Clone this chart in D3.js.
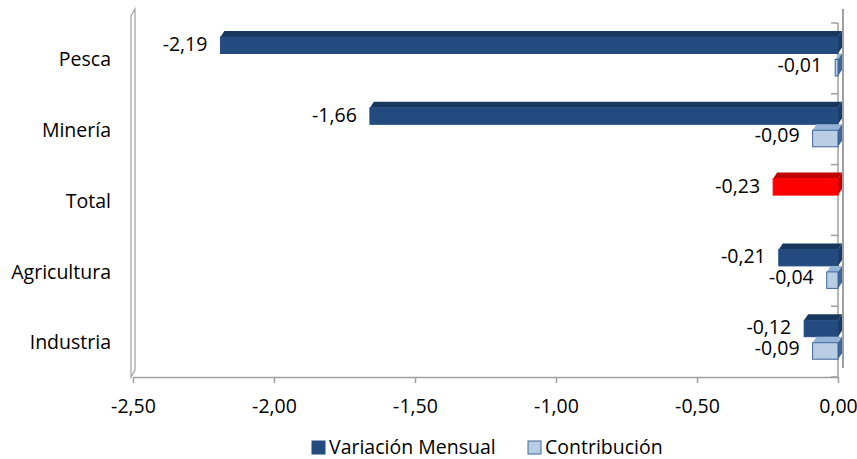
<!DOCTYPE html>
<html>
<head>
<meta charset="utf-8">
<script src="https://cdn.jsdelivr.net/npm/d3@7"></script>
<style>
  body { margin: 0; background: #fff; }
  svg text { font-family: "Open Sans", "Noto Sans", sans-serif; fill: #000; }
</style>
</head>
<body>
<div id="chart"></div>
<script>
const categories = ["Pesca", "Minería", "Total", "Agricultura", "Industria"]
const variacionMensual = [-2.19, -1.66, -0.23, -0.21, -0.12]
const contribucion = [-0.01, -0.09, null, -0.04, -0.09]
const xTicks = [-2.5, -2.0, -1.5, -1.0, -0.5, 0.0]
const seriesNames = ["Variación Mensual", "Contribución"]

const W = 857, H = 459
const fontSize = 19.5

const svg = d3.select("#chart").append("svg")
    .attr("width", W)
    .attr("height", H)

const xScale = d3.scaleLinear().domain([-2.5, 0]).range([133, 838])
const yScale = d3.scaleBand().domain(categories).range([23, 377])
const subScale = d3.scaleBand().domain(seriesNames).range([8, 53])

const fmt = v => d3.format(".2f")(v).replace(".", ",").replace("−", "-")

const colors = {
    dark: { front: "#234b80", top: "#17375e", side: "#1a3a66", stroke: "#234b80" },
    light: { front: "#b9cde5", top: "#95b3d7", side: "#3d6699", stroke: "#3d6699" },
    red: { front: "#ff0000", top: "#c00000", side: "#c00000", stroke: "#ff0000" }
}

// walls
const wall = svg.append("g").attr("class", "walls")
wall.append("path")
    .attr("d", "M131,377 L131,16 L135,9 L135,370 Z")
    .attr("fill", "#fff").attr("stroke", "#a0a0a0").attr("stroke-width", 1.2)
wall.append("line")
    .attr("x1", 843).attr("x2", 843).attr("y1", 9).attr("y2", 368)
    .attr("stroke", "#a0a0a0").attr("stroke-width", 2)
wall.append("line")
    .attr("x1", 838).attr("x2", 838).attr("y1", 23).attr("y2", 377)
    .attr("stroke", "#a0a0a0").attr("stroke-width", 1.5)
wall.selectAll(".rtick")
    .data(d3.range(categories.length + 1))
    .enter().append("line")
    .attr("x1", 831).attr("x2", 838)
    .attr("y1", i => 23 + i * yScale.step())
    .attr("y2", i => 23 + i * yScale.step())
    .attr("stroke", "#a0a0a0").attr("stroke-width", 1.5)

// bars
const bars = []
categories.forEach((c, i) => {
    bars.push({ cat: c, series: seriesNames[0], v: variacionMensual[i], col: c === "Total" ? colors.red : colors.dark })
    if (contribucion[i] !== null) {
        bars.push({ cat: c, series: seriesNames[1], v: contribucion[i], col: colors.light })
    }
})

const depth = 4, lift = 6
const barG = svg.append("g").attr("class", "bars")
bars.forEach(d => {
    const y0 = yScale(d.cat) + subScale(d.series)
    const h = subScale.bandwidth()
    const xl = xScale(d.v), xr = xScale(0)
    const g = barG.append("g")
    // top face
    g.append("path")
        .attr("d", `M${xl},${y0 + lift} L${xl + depth},${y0} L${xr + depth},${y0} L${xr},${y0 + lift} Z`)
        .attr("fill", d.col.top)
    // right side face
    g.append("path")
        .attr("d", `M${xr},${y0 + lift} L${xr + depth},${y0} L${xr + depth},${y0 + h - lift} L${xr},${y0 + h} Z`)
        .attr("fill", d.col.side)
    // front face
    g.append("rect")
        .attr("x", xl).attr("y", y0 + lift)
        .attr("width", xr - xl).attr("height", h - lift)
        .attr("fill", d.col.front)
        .attr("stroke", d.col.stroke).attr("stroke-width", 1)
    g.append("text")
        .attr("x", xl - 13)
        .attr("y", y0 + lift + (h - lift) / 2 + (d.series === seriesNames[0] ? -1 : -3))
        .attr("dy", "0.35em")
        .attr("text-anchor", "end")
        .attr("font-size", fontSize)
        .text(fmt(d.v))
})

// x axis
const bottomAxis = d3.axisBottom(xScale)
    .tickValues(xTicks)
    .tickFormat(fmt)
    .tickSize(6)
    .tickPadding(16)
    .tickSizeOuter(0)
const ax = svg.append("g")
    .attr("transform", "translate(0,377)")
    .call(bottomAxis)
ax.select(".domain").attr("stroke", "#a0a0a0").attr("stroke-width", 1.5)
ax.selectAll(".tick line").attr("stroke", "#a0a0a0").attr("stroke-width", 1.5)
ax.selectAll(".tick text").attr("font-size", fontSize).attr("font-family", null).attr("fill", "#000")

// category labels
svg.append("g").selectAll("text")
    .data(categories)
    .enter().append("text")
    .attr("x", 111)
    .attr("y", d => yScale(d) + yScale.bandwidth() / 2 + 1)
    .attr("dy", "0.35em")
    .attr("text-anchor", "end")
    .attr("font-size", fontSize)
    .text(d => d)

// legend
const legend = svg.append("g").attr("class", "legend")
const legendX = [312, 528]
const legendCols = [colors.dark, colors.light]
seriesNames.forEach((s, i) => {
    legend.append("rect")
        .attr("x", legendX[i]).attr("y", 441)
        .attr("width", 13).attr("height", 13)
        .attr("fill", legendCols[i].front)
        .attr("stroke", legendCols[i].stroke)
    legend.append("text")
        .attr("x", legendX[i] + 17).attr("y", 447)
        .attr("dy", "0.35em")
        .attr("font-size", fontSize)
        .text(s)
})
</script>
</body>
</html>
